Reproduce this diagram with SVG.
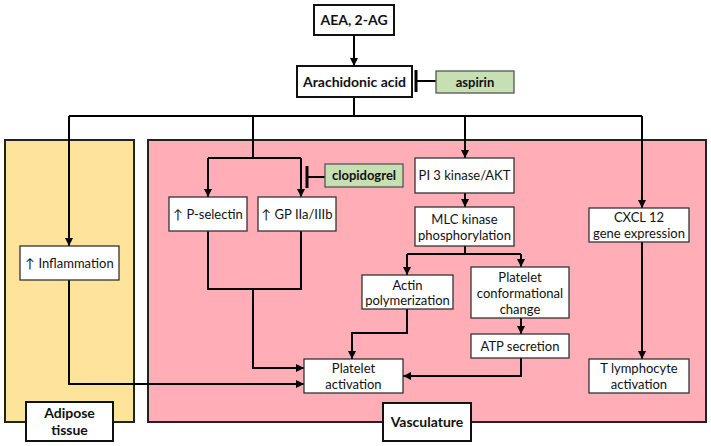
<svg xmlns="http://www.w3.org/2000/svg" width="711" height="446" viewBox="0 0 711 446">
<defs>
<marker id="ah" markerWidth="8" markerHeight="8" viewBox="0 0 10 10" refX="10" refY="5" orient="auto" markerUnits="userSpaceOnUse">
<path d="M0,0 L10,5 L0,10 z" fill="#000"/>
</marker>
</defs>
<style>
.bg{stroke:#222;stroke-width:2}
.n{fill:#fff;stroke:#333;stroke-width:1.3}
.b{fill:#fff;stroke:#111;stroke-width:2}
.g{fill:#c6e0b4;stroke:#555;stroke-width:1.3}
.t{font-family:Lato,"Open Sans",sans-serif;font-size:13px;fill:#111;text-anchor:middle}
.tb{font-family:Lato,"Open Sans",sans-serif;font-size:14px;font-weight:bold;fill:#111;text-anchor:middle}
.c{fill:none;stroke:#000;stroke-width:2}
.a{marker-end:url(#ah)}
</style>
<rect width="711" height="446" fill="#fff"/>
<g id="adipose-region"><rect class="bg" x="5" y="140" width="129" height="282" fill="#fde49a"/></g>
<g id="vasculature-region"><rect class="bg" x="148" y="140" width="558" height="282" fill="#ffadb6"/></g>
<g id="connectors">
<path class="c a" d="M354,35 V66"/>
<path class="c" d="M354,97 V116"/>
<path class="c" d="M69,116 H642"/>
<path class="c a" d="M69,116 V246"/>
<path class="c" d="M253,116 V158"/>
<path class="c" d="M208,158 H301"/>
<path class="c a" d="M208,158 V197"/>
<path class="c a" d="M301,158 V197"/>
<path class="c a" d="M465,116 V158"/>
<path class="c a" d="M642,116 V208"/>
<path class="c a" d="M465,193 V207"/>
<path class="c" d="M465,246 V254"/>
<path class="c" d="M407,254 H521"/>
<path class="c a" d="M407,254 V275"/>
<path class="c a" d="M521,254 V267"/>
<path class="c a" d="M521,318 V334"/>
<path class="c" d="M208,231 V289 H301 V231"/>
<path class="c a" d="M253,289 V368 H304"/>
<path class="c a" d="M69,280 V384 H304"/>
<path class="c a" d="M407,309 V333 H352 V359"/>
<path class="c a" d="M521,358 V376 H403"/>
<path class="c a" d="M642,242 V359"/>
<path class="c" d="M416,81 H436"/>
<path d="M416,70 V92" stroke="#000" stroke-width="3"/>
<path class="c" d="M307,177 H325"/>
<path d="M307,166 V188" stroke="#000" stroke-width="3"/>
</g>
<g id="aea"><rect class="b" x="314" y="5" width="80" height="30"/><text class="tb" x="354" y="25">AEA, 2-AG</text></g>
<g id="arachidonic"><rect class="b" x="297" y="66" width="115" height="31"/><text class="tb" x="354.5" y="86.5">Arachidonic acid</text></g>
<g id="aspirin"><rect class="g" x="436" y="71" width="78" height="22"/><text class="tb" x="475" y="86.5" style="font-size:13px">aspirin</text></g>
<g id="clopidogrel"><rect class="g" x="325" y="164" width="78" height="23"/><text class="tb" x="364" y="180" style="font-size:13px">clopidogrel</text></g>
<g id="pselectin"><rect class="n" x="169" y="197" width="78" height="34"/><text class="t" x="208" y="218.5">↑ P-selectin</text></g>
<g id="gp"><rect class="n" x="258" y="197" width="78" height="34"/><text class="t" x="297" y="218.5">↑ GP IIa/IIIb</text></g>
<g id="inflammation"><rect class="n" x="20" y="246" width="99" height="34"/><text class="t" x="69.5" y="267.5">↑ Inflammation</text></g>
<g id="pi3"><rect class="n" x="415" y="158" width="99" height="35"/><text class="t" x="464.5" y="180">PI 3 kinase/AKT</text></g>
<g id="mlc"><rect class="n" x="415" y="207" width="99" height="39"/><text class="t" x="464.5" y="224">MLC kinase</text><text class="t" x="464.5" y="240">phosphorylation</text></g>
<g id="actin"><rect class="n" x="362" y="275" width="91" height="34"/><text class="t" x="407.5" y="290">Actin</text><text class="t" x="407.5" y="305">polymerization</text></g>
<g id="conformational"><rect class="n" x="471" y="267" width="98" height="51"/><text class="t" x="520" y="282">Platelet</text><text class="t" x="520" y="298">conformational</text><text class="t" x="520" y="314">change</text></g>
<g id="atp"><rect class="n" x="471" y="334" width="98" height="24"/><text class="t" x="520" y="350.5">ATP secretion</text></g>
<g id="platelet-activation"><rect class="n" x="304" y="359" width="99" height="34"/><text class="t" x="353.5" y="373">Platelet</text><text class="t" x="353.5" y="388.5">activation</text></g>
<g id="cxcl"><rect class="n" x="589" y="208" width="100" height="34"/><text class="t" x="639" y="222">CXCL 12</text><text class="t" x="639" y="237.5">gene expression</text></g>
<g id="tlymph"><rect class="n" x="589" y="359" width="100" height="34"/><text class="t" x="639" y="373">T lymphocyte</text><text class="t" x="639" y="388.5">activation</text></g>
<g id="adipose-label"><rect class="b" x="26" y="402" width="87" height="39"/><text class="tb" x="69.5" y="418">Adipose</text><text class="tb" x="69.5" y="435">tissue</text></g>
<g id="vasculature-label"><rect class="b" x="383" y="403" width="88" height="38"/><text class="tb" x="427" y="427">Vasculature</text></g>
</svg>
